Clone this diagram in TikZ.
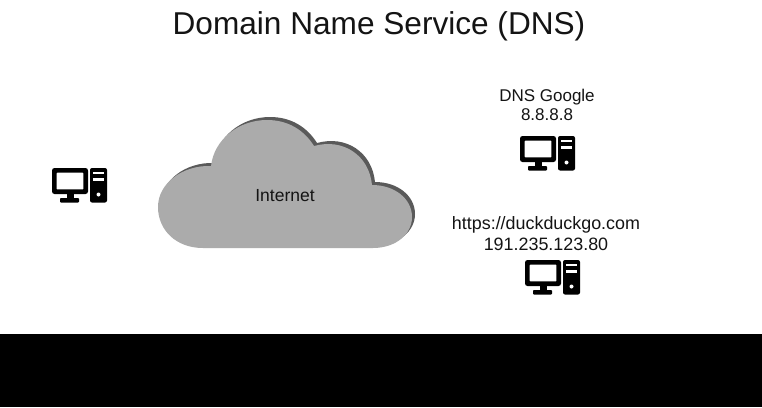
\documentclass[tikz,border=0pt]{standalone}
\usepackage{fontspec}
\setmainfont{Liberation Sans}
\definecolor{cloudfill}{HTML}{ABABAB}
\definecolor{cloudedge}{HTML}{5A5A5A}
\definecolor{ink}{HTML}{141414}
\tikzset{
  label text/.style={text=ink, align=center, inner sep=0pt},
  pcicon/.pic={
    % monitor
    \fill[black, rounded corners=2.5pt] (0,0) rectangle (36,26);
    \fill[white, rounded corners=0.8pt] (4.6,4.6) rectangle (31.4,21.4);
    \fill[black] (14.5,26) rectangle (21.5,31);
    \fill[black, rounded corners=0.8pt] (8,30) rectangle (27,34.5);
    % tower
    \fill[black, rounded corners=2pt] (38,0) rectangle (55,34.5);
    \fill[white] (41,3.6) rectangle (52,6.2);
    \fill[white] (41,10) rectangle (52,13.4);
    \fill[white] (46.5,26.5) circle (2);
  },
  cloudshape/.pic={
    \path[pic actions]
      (203,248)
      .. controls (176,248) and (158,230) .. (158,207)
      .. controls (158,183) and (183,165) .. (211,166)
      .. controls (214,140) and (238,120) .. (267,120)
      .. controls (288,120) and (304,130) .. (314,146)
      .. controls (343,138) and (369,155) .. (372,185)
      .. controls (395,185) and (412,199) .. (412,217)
      .. controls (412,234) and (396,248) .. (373,248)
      -- cycle;
  }
}
\begin{document}
\begin{tikzpicture}[x=1pt,y=-1pt]
\useasboundingbox (0,0) rectangle (762,407);
\fill[white] (0,0) rectangle (762,407);
\node[font=\fontsize{31.6}{36}\selectfont, text=ink, inner sep=0pt] (title) at (379,26) {Domain Name Service (DNS)};
\pic[fill=cloudedge] at (3,-3) {cloudshape};
\pic[fill=cloudfill] at (0,0) {cloudshape};
\node[label text, font=\fontsize{17.5}{20}\selectfont] (internet) at (285,196) {Internet};
\pic at (52,168) {pcicon};
\node[label text, font=\fontsize{17}{19}\selectfont] (google) at (547,104.5) {DNS Google\\8.8.8.8};
\pic at (520,136) {pcicon};
\node[label text, font=\fontsize{17.9}{21}\selectfont] (duck) at (546,233.5) {https://duckduckgo.com\\191.235.123.80};
\pic at (525,260) {pcicon};
\fill[black] (0,334) rectangle (762,407);
\end{tikzpicture}
\end{document}
